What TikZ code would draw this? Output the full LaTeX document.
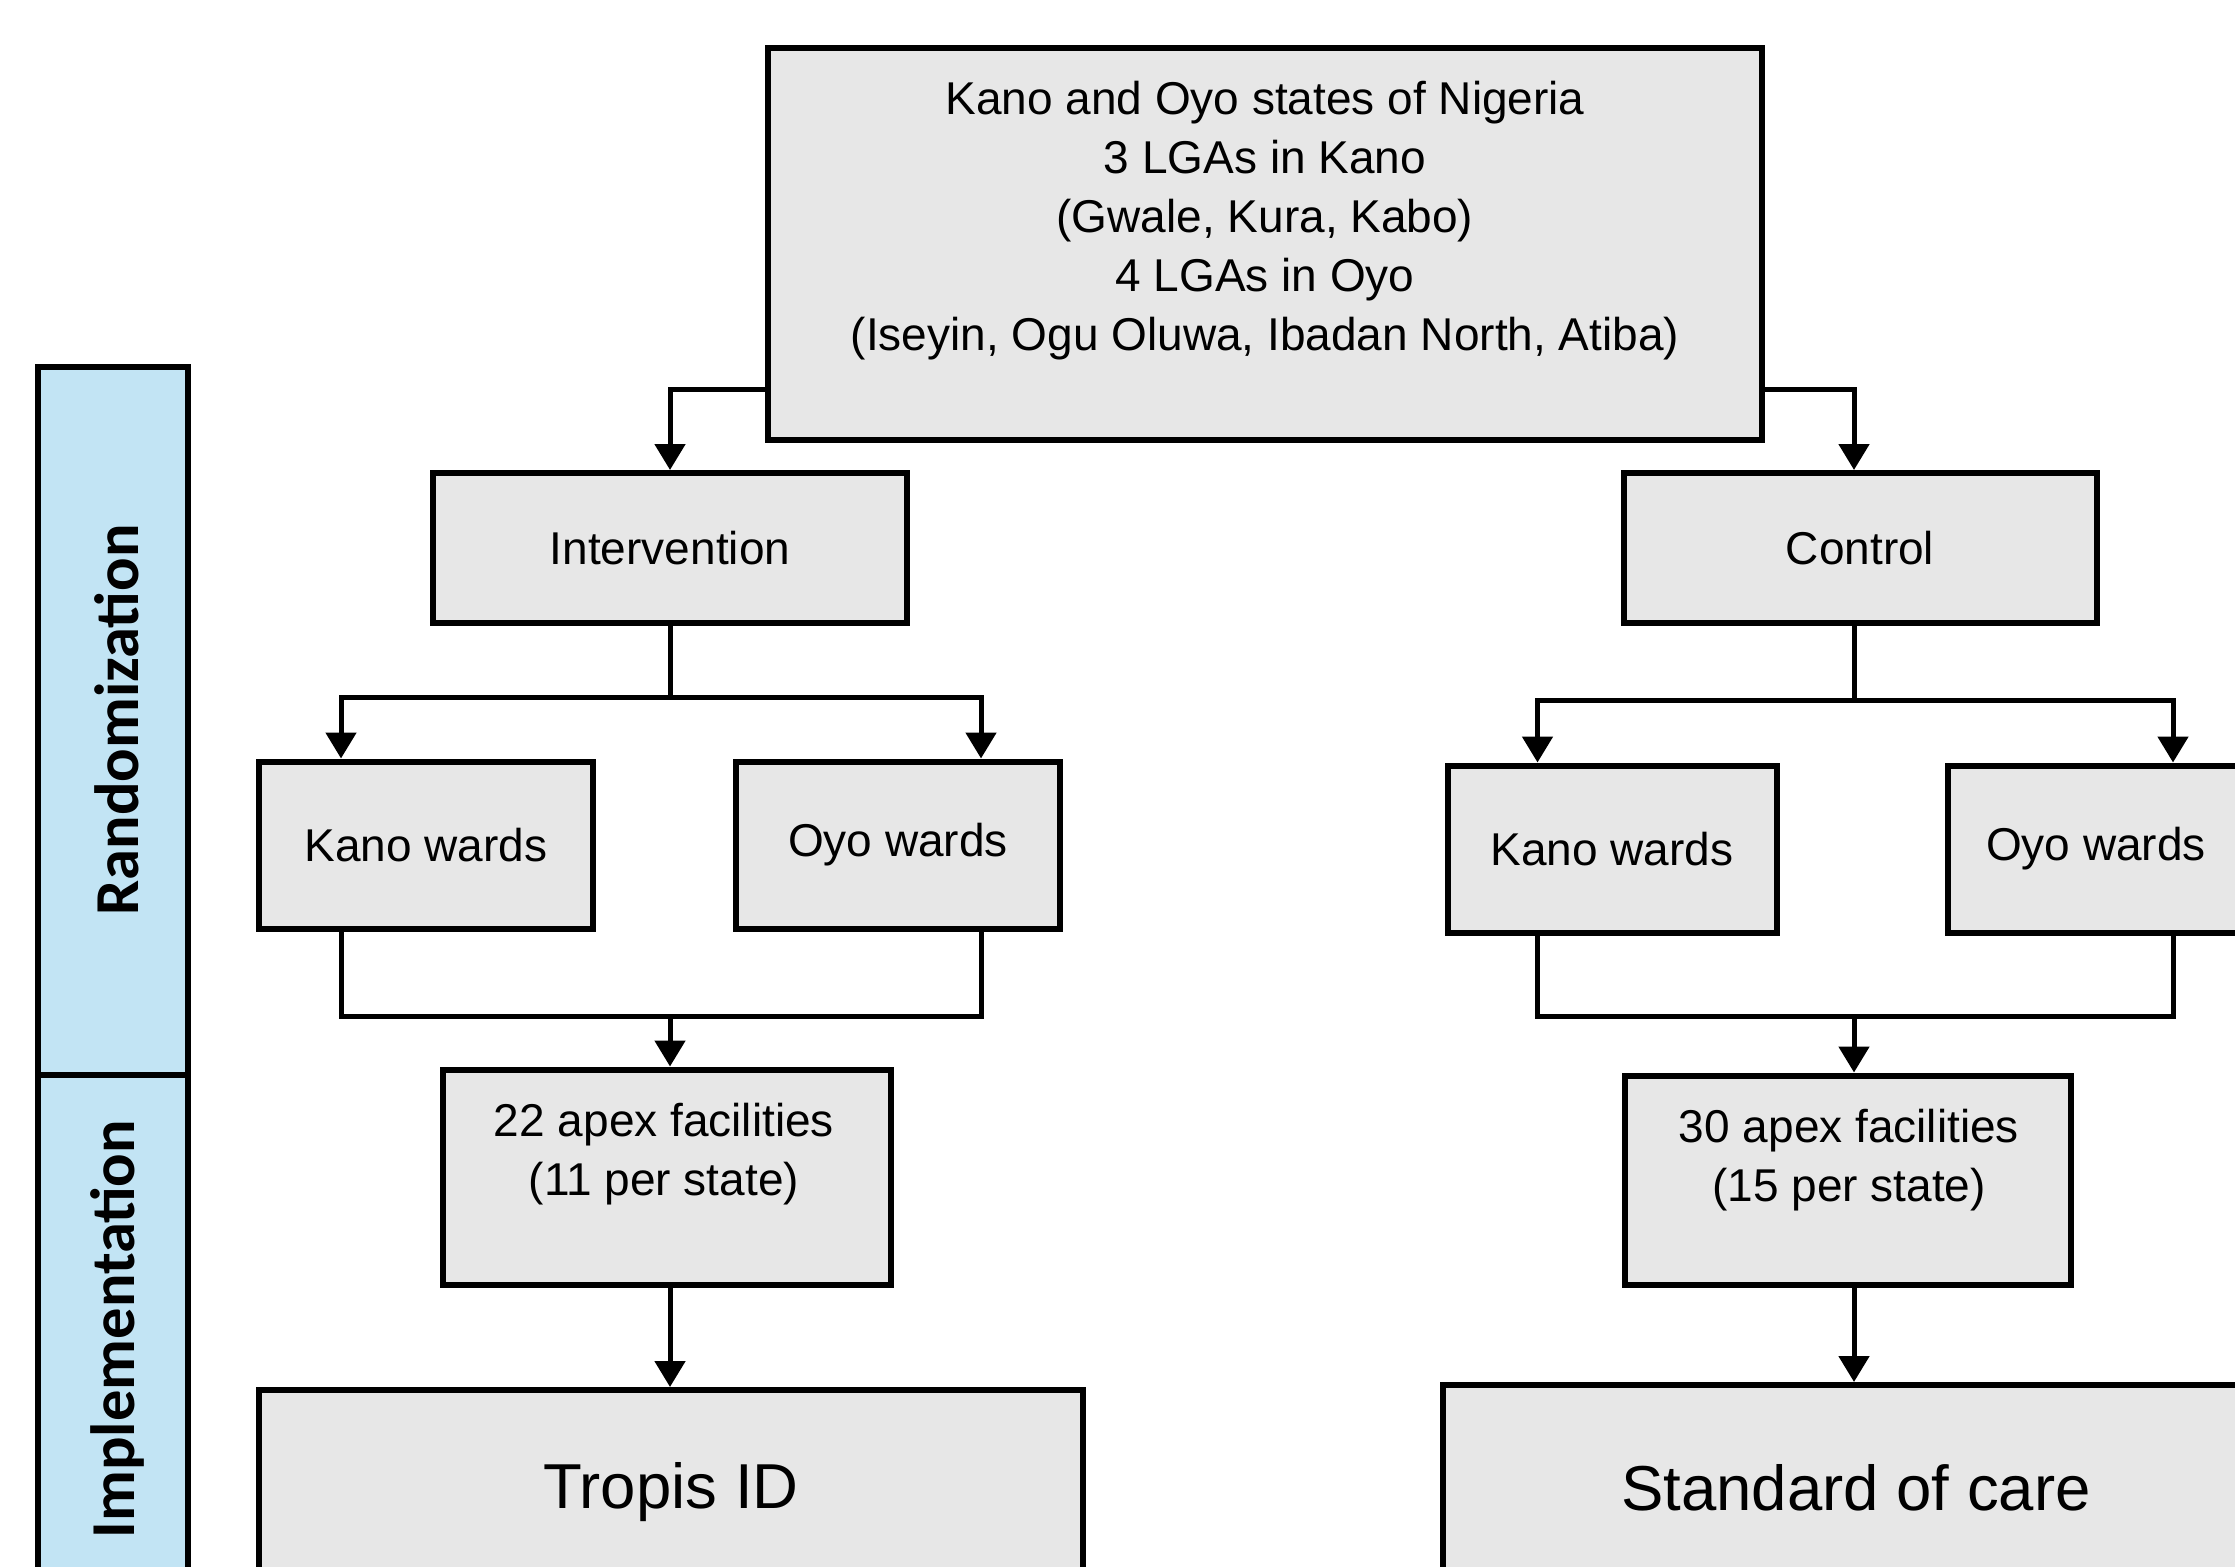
\documentclass[tikz,border=0pt]{standalone}
\usepackage{fontspec}
\setmainfont{Liberation Sans}
\newfontfamily\barfont{Carlito}
\usetikzlibrary{arrows.meta,calc}
\definecolor{boxgray}{RGB}{231,231,231}
\definecolor{barblue}{RGB}{194,228,244}
\begin{document}
\begin{tikzpicture}[x=1pt,y=-1pt,
  box/.style={draw=black, fill=boxgray, line width=6pt, rectangle, inner sep=0pt, align=center, font=\fontsize{46}{59}\selectfont},
  plain/.style={align=center, inner sep=0pt, font=\fontsize{46}{59}\selectfont},
  big/.style={font=\fontsize{63.5}{74}\selectfont},
  bar/.style={draw=black, fill=barblue, line width=5.5pt, rectangle, inner sep=0pt},
  bartext/.style={rotate=90, inner sep=0pt, font=\barfont\bfseries\fontsize{62.5}{74}\selectfont},
  conn/.style={line width=5pt},
  arr/.style={conn, -{Triangle[width=30pt,length=26pt]}}]
\useasboundingbox (0,0) rectangle (2235,1566);
\clip (0,0) rectangle (2235,1566);

% side bar
\node[bar, minimum width=150pt, minimum height=708pt] (rand) at (113,721) {};
\node[bar, minimum width=150pt, minimum height=508pt] (impl) at (113,1329) {};
\node[bartext] (randt) at (117,720) {Randomization};
\node[bartext] (implt) at (117,1329) {Implementation};

% top
\node[box, minimum width=994pt, minimum height=392pt] (top) at (1265,244) {};
\node[plain] (toptext) at (1265,221) {Kano and Oyo states of Nigeria\\3 LGAs in Kano\\(Gwale, Kura, Kabo)\\4 LGAs in Oyo\\(Iseyin, Ogu Oluwa, Ibadan North, Atiba)};

% arms
\node[box, minimum width=474pt, minimum height=150pt] (int) at (670,548) {Intervention};
\node[box, minimum width=473pt, minimum height=150pt] (ctl) at (1860,548) {Control};

% wards
\node[box, minimum width=334pt, minimum height=167pt] (kanoI) at (426,845) {Kano wards};
\node[box, minimum width=324pt, minimum height=167pt] (oyoI) at (898,845) {Oyo wards};
\node[box, minimum width=329pt, minimum height=167pt] (kanoC) at (1612,849) {Kano wards};
\node[box, minimum width=296pt, minimum height=167pt] (oyoC) at (2096,849) {Oyo wards};

% apex
\node[box, minimum width=448pt, minimum height=215pt] (apexI) at (667,1177) {};
\node[plain] (apexIt) at (664,1154) {22 apex facilities\\(11 per state)};
\node[box, minimum width=446pt, minimum height=209pt] (apexC) at (1848,1180) {};
\node[plain] (apexCt) at (1849,1160) {30 apex facilities\\(15 per state)};

% outcome
\node[box, big, minimum width=824pt, minimum height=204pt] (tropis) at (671,1492) {Tropis ID};
\node[box, big, minimum width=826pt, minimum height=206pt] (soc) at (1856,1488) {Standard of care};

% attachment points
\coordinate (kIa) at ([xshift=85pt]kanoI.north west);
\coordinate (oIa) at ([xshift=-82pt]oyoI.north east);
\coordinate (kIb) at ([xshift=85pt]kanoI.south west);
\coordinate (oIb) at ([xshift=-82pt]oyoI.south east);
\coordinate (kCa) at ([xshift=93pt]kanoC.north west);
\coordinate (oCa) at ([xshift=228pt]oyoC.north west);
\coordinate (kCb) at ([xshift=93pt]kanoC.south west);
\coordinate (oCb) at ([xshift=228pt]oyoC.south west);

% connectors
\draw[arr] ($(top.south west)+(0,-54)$) -| (int.north);
\draw[arr] ($(top.south east)+(0,-54)$) -| ([xshift=-6pt]ctl.north);

\draw[arr] (int.south) -- ++(0,71) -| (kIa);
\draw[arr] (int.south) -- ++(0,71) -| (oIa);
\draw[arr] ([xshift=-6pt]ctl.south) -- ++(0,74) -| (kCa);
\draw[arr] ([xshift=-6pt]ctl.south) -- ++(0,74) -| (oCa);

\draw[conn] (kIb) -- ++(0,85) coordinate (jI) -| (oIb);
\draw[arr] (jI -| int.south) -- (int.south |- apexI.north);
\draw[conn] (kCb) -- ++(0,81) coordinate (jC) -| (oCb);
\draw[arr] ([xshift=-6pt]jC -| ctl.south) -- ([xshift=-6pt]ctl.south |- apexC.north);

\draw[arr] (int.south |- apexI.south) -- (int.south |- tropis.north);
\draw[arr] ([xshift=-6pt]ctl.south |- apexC.south) -- ([xshift=-6pt]ctl.south |- soc.north);
\end{tikzpicture}
\end{document}
